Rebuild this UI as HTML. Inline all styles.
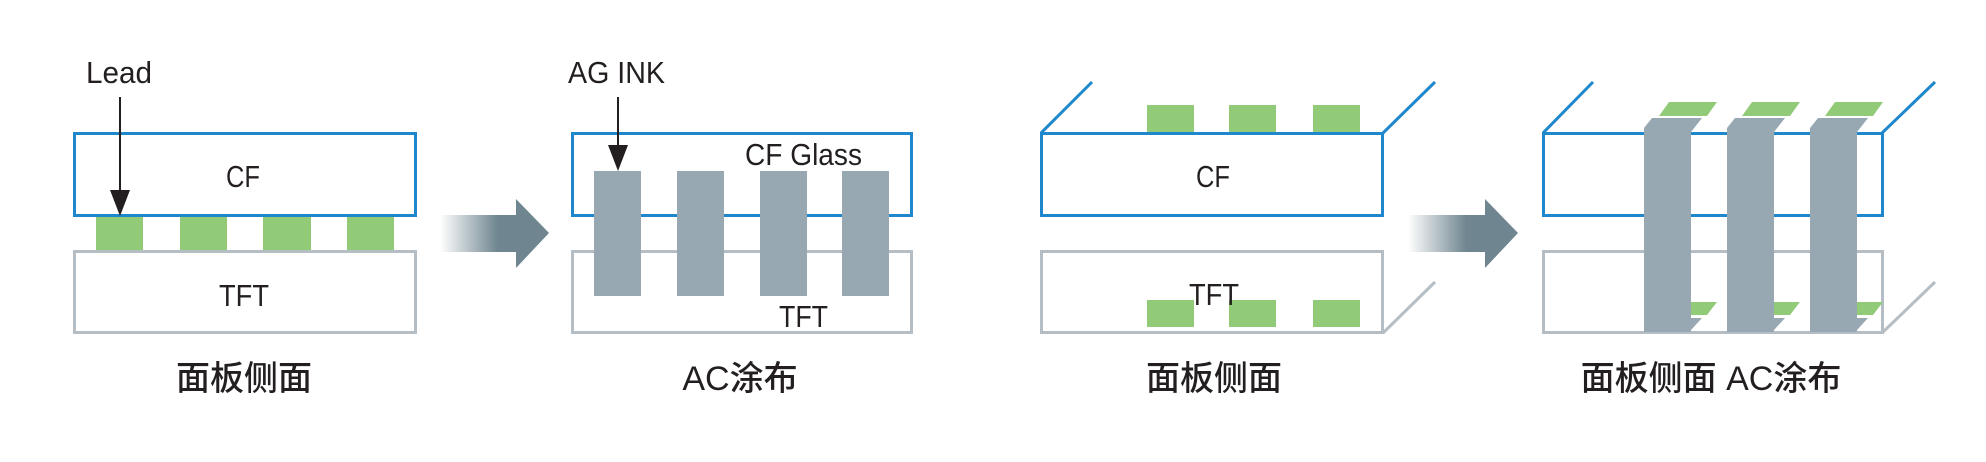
<!DOCTYPE html>
<html><head><meta charset="utf-8"><style>
html,body{margin:0;padding:0;background:#fff;width:1986px;height:462px;overflow:hidden}
text{font-family:"Liberation Sans","Noto Sans CJK SC",sans-serif;fill:#231f20}
</style></head><body>
<svg width="1986" height="462" viewBox="0 0 1986 462" xmlns="http://www.w3.org/2000/svg">
<defs>
<linearGradient id="g" x1="0" x2="1" y1="0" y2="0">
<stop offset="0" stop-color="#6f8590" stop-opacity="0"/>
<stop offset="0.75" stop-color="#6f8590"/>
<stop offset="1" stop-color="#6f8590"/>
</linearGradient>
</defs>
<!-- Panel 1 -->
<rect x="96" y="217" width="47" height="33" fill="#92cb78"/>
<rect x="180" y="217" width="47" height="33" fill="#92cb78"/>
<rect x="263" y="217" width="48" height="33" fill="#92cb78"/>
<rect x="347" y="217" width="47" height="33" fill="#92cb78"/>
<rect x="74.5" y="133.5" width="341" height="82" fill="none" stroke="#1f87cc" stroke-width="3"/>
<rect x="74.5" y="251.5" width="341" height="81" fill="none" stroke="#b4bec4" stroke-width="3"/>
<text x="86" y="83" font-size="31" textLength="66" lengthAdjust="spacingAndGlyphs">Lead</text>
<line x1="120" y1="97" x2="120" y2="195" stroke="#231f20" stroke-width="2"/>
<polygon points="110,190 130,190 120,216" fill="#231f20"/>
<text x="243" y="187" font-size="31" text-anchor="middle" textLength="34" lengthAdjust="spacingAndGlyphs">CF</text>
<text x="244" y="306" font-size="31" text-anchor="middle" textLength="50" lengthAdjust="spacingAndGlyphs">TFT</text>
<text x="244" y="390" font-size="34" text-anchor="middle" font-weight="500">面板侧面</text>
<!-- Arrow 1 -->
<rect x="440" y="215" width="77" height="37" fill="url(#g)"/>
<polygon points="516,199 549,233 516,268" fill="#6f8590"/>
<!-- Panel 2 -->
<rect x="572.5" y="133.5" width="339" height="82" fill="none" stroke="#1f87cc" stroke-width="3"/>
<rect x="572.5" y="251.5" width="339" height="81" fill="none" stroke="#b4bec4" stroke-width="3"/>
<rect x="594" y="171" width="47" height="125" fill="#97a8b3"/>
<rect x="677" y="171" width="47" height="125" fill="#97a8b3"/>
<rect x="760" y="171" width="47" height="125" fill="#97a8b3"/>
<rect x="842" y="171" width="47" height="125" fill="#97a8b3"/>
<text x="568" y="83" font-size="31" textLength="97" lengthAdjust="spacingAndGlyphs">AG INK</text>
<line x1="618" y1="97" x2="618" y2="150" stroke="#231f20" stroke-width="2"/>
<polygon points="608,145 628,145 618,171" fill="#231f20"/>
<text x="745" y="165" font-size="31" textLength="117" lengthAdjust="spacingAndGlyphs">CF Glass</text>
<text x="779" y="327" font-size="31" textLength="49" lengthAdjust="spacingAndGlyphs">TFT</text>
<text x="740" y="390" font-size="34" text-anchor="middle" font-weight="500">AC涂布</text>
<!-- Panel 3 -->
<rect x="1147" y="105" width="47" height="28" fill="#92cb78"/>
<rect x="1229" y="105" width="47" height="28" fill="#92cb78"/>
<rect x="1313" y="105" width="47" height="28" fill="#92cb78"/>
<rect x="1147" y="300" width="47" height="27" fill="#92cb78"/>
<rect x="1229" y="300" width="47" height="27" fill="#92cb78"/>
<rect x="1313" y="300" width="47" height="27" fill="#92cb78"/>
<rect x="1041.5" y="133.5" width="341" height="82" fill="none" stroke="#1f87cc" stroke-width="3"/>
<rect x="1041.5" y="251.5" width="341" height="81" fill="none" stroke="#b4bec4" stroke-width="3"/>
<line x1="1041" y1="133" x2="1092" y2="82" stroke="#1f87cc" stroke-width="3"/>
<line x1="1383" y1="133" x2="1435" y2="82" stroke="#1f87cc" stroke-width="3"/>
<line x1="1383" y1="333" x2="1435" y2="282" stroke="#b4bec4" stroke-width="3"/>
<text x="1213" y="187" font-size="31" text-anchor="middle" textLength="34" lengthAdjust="spacingAndGlyphs">CF</text>
<text x="1214" y="305" font-size="31" text-anchor="middle" textLength="50" lengthAdjust="spacingAndGlyphs">TFT</text>
<text x="1214" y="390" font-size="34" text-anchor="middle" font-weight="500">面板侧面</text>
<!-- Arrow 2 -->
<rect x="1408" y="215" width="78" height="37" fill="url(#g)"/>
<polygon points="1485,199 1518,233 1485,268" fill="#6f8590"/>
<!-- Panel 4 -->
<rect x="1543.5" y="133.5" width="339" height="82" fill="none" stroke="#1f87cc" stroke-width="3"/>
<rect x="1543.5" y="251.5" width="339" height="81" fill="none" stroke="#b4bec4" stroke-width="3"/>
<line x1="1543" y1="133" x2="1593" y2="82" stroke="#1f87cc" stroke-width="3"/>
<line x1="1882" y1="133" x2="1935" y2="82" stroke="#1f87cc" stroke-width="3"/>
<line x1="1882" y1="333" x2="1935" y2="282" stroke="#b4bec4" stroke-width="3"/>
<g fill="#92cb78">
<polygon points="1659,116 1669,102 1717,102 1707,116"/>
<polygon points="1742,116 1752,102 1800,102 1790,116"/>
<polygon points="1825,116 1835,102 1883,102 1873,116"/>
<polygon points="1691,302 1717,302 1707,315 1691,315"/>
<polygon points="1774,302 1800,302 1790,315 1774,315"/>
<polygon points="1857,302 1883,302 1873,315 1857,315"/>
</g>
<g fill="#97a8b3">
<polygon points="1644,332 1644,128 1652,118 1702,118 1691,132 1691,332"/>
<polygon points="1727,332 1727,128 1735,118 1785,118 1774,132 1774,332"/>
<polygon points="1810,332 1810,128 1818,118 1868,118 1857,132 1857,332"/>
<polygon points="1691,318 1702,318 1691,330"/>
<polygon points="1774,318 1785,318 1774,330"/>
<polygon points="1857,318 1868,318 1857,330"/>
</g>
<text x="1711" y="390" font-size="34" text-anchor="middle" font-weight="500">面板侧面 AC涂布</text>
</svg>
</body></html>
